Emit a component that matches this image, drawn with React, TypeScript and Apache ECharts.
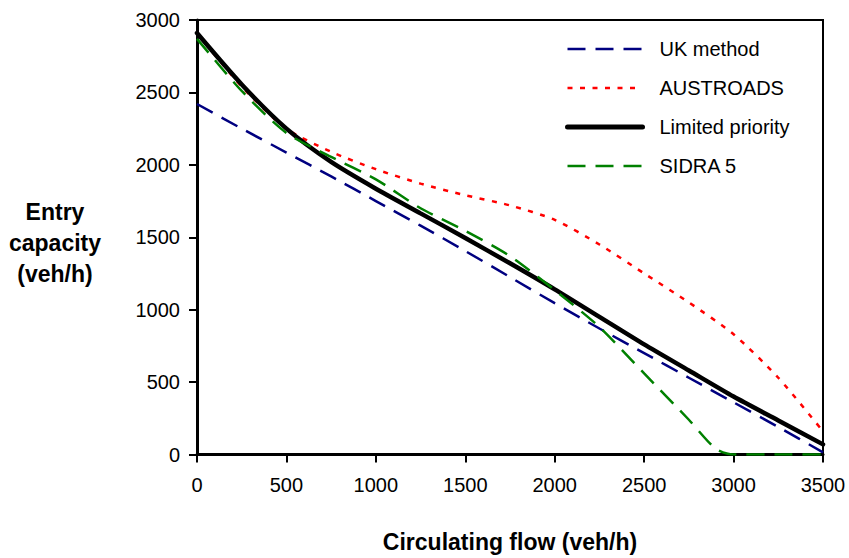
import React, { useEffect, useRef } from "react";
import * as echarts from "echarts";

const flow = [0, 250, 500, 750, 1000, 1250, 1500, 1750, 2000, 2250, 2500, 2750, 3000, 3250, 3500];
const ukMethod = [2420, 2250, 2085, 1920, 1750, 1580, 1405, 1225, 1045, 870, 700, 530, 360, 190, 15];
const austroads = [2910, 2540, 2250, 2090, 1970, 1870, 1790, 1720, 1620, 1450, 1250, 1050, 830, 530, 160];
const limitedPriority = [2910, 2555, 2250, 2020, 1835, 1665, 1495, 1320, 1140, 950, 760, 580, 400, 235, 70];
const sidraFlow = [0, 250, 500, 750, 1000, 1250, 1500, 1750, 2000, 2250, 2500, 2750, 2900, 3000, 3250, 3500];
const sidra5 = [2870, 2510, 2220, 2055, 1900, 1700, 1545, 1370, 1135, 880, 560, 240, 40, 0, 0, 0];
const seriesNames = ["UK method", "AUSTROADS", "Limited priority", "SIDRA 5"];

const xTicks = { min: 0, max: 3500, interval: 500 };
const yTicks = { min: 0, max: 3000, interval: 500 };

const pair = (xs: number[], ys: number[]) => xs.map((x, i) => [x, ys[i]]);

const FONT = "'Liberation Sans', Arial, Helvetica, sans-serif";

const styles: Record<string, any> = {
  "UK method": { color: "#000080", width: 2.5, type: [18, 10] },
  AUSTROADS: { color: "#ff0000", width: 2.5, type: [5, 7.5] },
  "Limited priority": { color: "#000000", width: 5, type: "solid", cap: "round" },
  "SIDRA 5": { color: "#008000", width: 2.5, type: [18, 10] },
};

export default function App() {
  const ref = useRef<HTMLDivElement>(null);
  useEffect(() => {
    if (!ref.current) return;
    const chart = echarts.init(ref.current, null, { renderer: "svg" });
    const mk = (name: string, xs: number[], ys: number[], z: number) => ({
      name,
      type: "line",
      data: pair(xs, ys),
      symbol: "none",
      smooth: 0.25,
      z,
      lineStyle: {
        color: styles[name].color,
        width: name === "Limited priority" ? 4.5 : styles[name].width,
        type: styles[name].type,
        cap: styles[name].cap || "butt",
      },
      itemStyle: { color: styles[name].color },
    });
    chart.setOption({
      animation: false,
      backgroundColor: "#ffffff",
      grid: {
        left: 197,
        right: 26,
        top: 20,
        bottom: 100,
        show: true,
        borderColor: "#000",
        borderWidth: 2,
        backgroundColor: "transparent",
      },
      legend: {
        orient: "vertical",
        left: 560,
        top: 34,
        itemWidth: 75,
        itemHeight: 14,
        itemGap: 19,
        itemStyle: { opacity: 0 },
        textStyle: {
          fontSize: 20,
          fontFamily: FONT,
          color: "#000",
          padding: [0, 0, 0, 12],
          lineHeight: 20,
        },
        data: seriesNames.map((n) => ({
          name: n,
          lineStyle: {
            color: styles[n].color,
            width: styles[n].width,
            type: styles[n].type,
            cap: styles[n].cap || "butt",
          },
        })),
      },
      xAxis: {
        type: "value",
        min: xTicks.min,
        max: xTicks.max,
        interval: xTicks.interval,
        name: "Circulating flow (veh/h)",
        nameLocation: "middle",
        nameGap: 87,
        nameTextStyle: {
          fontSize: 23,
          fontWeight: "bold",
          fontFamily: FONT,
          color: "#000",
          verticalAlign: "middle",
        },
        splitLine: { show: false },
        axisLine: { show: true, onZero: false, lineStyle: { color: "#000", width: 3 } },
        axisTick: { show: true, inside: false, length: 8, lineStyle: { color: "#000", width: 2 } },
        axisLabel: {
          fontSize: 20,
          fontFamily: FONT,
          color: "#000",
          margin: 20,
          formatter: (v: number) => String(v),
        },
      },
      yAxis: {
        type: "value",
        min: yTicks.min,
        max: yTicks.max,
        interval: yTicks.interval,
        splitLine: { show: false },
        axisLine: { show: true, onZero: false, lineStyle: { color: "#000", width: 3 } },
        axisTick: { show: true, inside: false, length: 8, lineStyle: { color: "#000", width: 2 } },
        axisLabel: {
          fontSize: 20,
          fontFamily: FONT,
          color: "#000",
          margin: 17,
          formatter: (v: number) => String(v),
        },
      },
      graphic: [
        {
          type: "text",
          x: 55,
          y: 243,
          style: {
            text: "Entry\ncapacity\n(veh/h)",
            fontSize: 23,
            fontWeight: "bold",
            fontFamily: FONT,
            fill: "#000",
            align: "center",
            verticalAlign: "middle",
            lineHeight: 31,
          },
        },
      ],
      series: [
        mk("UK method", flow, ukMethod, 2),
        mk("AUSTROADS", flow, austroads, 2),
        mk("Limited priority", flow, limitedPriority, 3),
        mk("SIDRA 5", sidraFlow, sidra5, 4),
      ],
    });
    return () => chart.dispose();
  }, []);
  return (
    <div
      ref={ref}
      style={{ position: "fixed", left: 0, top: 0, width: 849, height: 558, background: "#fff" }}
    />
  );
}
